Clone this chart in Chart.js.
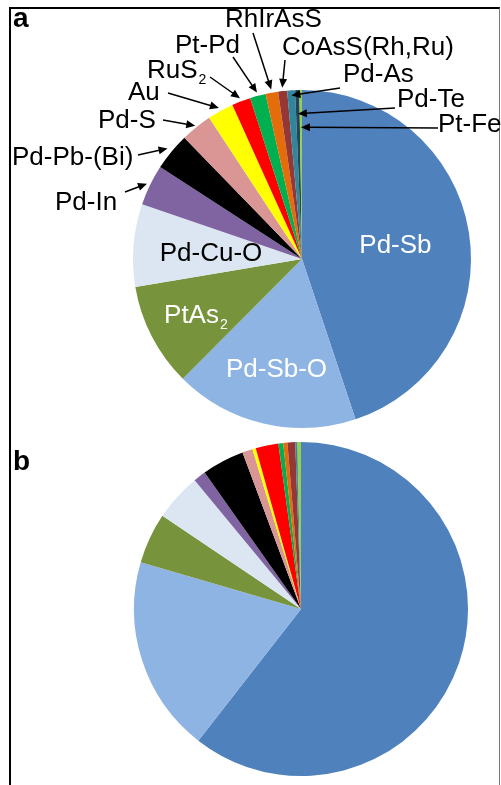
<!DOCTYPE html>
<html>
<head>
<meta charset="utf-8">
<script src="https://cdn.jsdelivr.net/npm/chart.js@4/dist/chart.umd.min.js"></script>
<style>
  html, body { margin: 0; padding: 0; background: #fff; }
  body { width: 501px; height: 785px; position: relative; overflow: hidden; }
  #frame {
    position: absolute; left: 9px; top: 7px; width: 488px; height: 800px;
    border-left: 2px solid #000; border-top: 2px solid #000; border-right: 1px solid #777;
  }
  canvas { position: absolute; left: 0; }
  #chartA { top: 0; }
  #chartB { top: 437px; }
</style>
</head>
<body>
<div id="frame"></div>
<canvas id="chartA" width="501" height="437"></canvas>
<canvas id="chartB" width="501" height="348"></canvas>
<script>
// Mineral phases, in clockwise order from 12 o'clock
const phases = ["Pd-Sb", "Pd-Sb-O", "PtAs2", "Pd-Cu-O", "Pd-In", "Pd-Pb-(Bi)", "Pd-S",
                "Au", "RuS2", "Pt-Pd", "RhIrAsS", "CoAsS(Rh,Ru)", "Pd-As", "Pd-Te", "Pt-Fe"];

const phaseColors = ["#4F81BD", "#8EB4E3", "#77933C", "#DCE6F2", "#8064A2", "#000000", "#D99694",
                     "#FFFF00", "#FF0000", "#00B050", "#E46C0A", "#953735", "#31859C", "#234459", "#92D050"];

// Panel a: share of grains (%)
const shareA = [44.9, 17.6, 9.9, 7.9, 3.9, 3.6, 3.0, 2.5, 1.8, 1.5, 1.2, 0.86, 0.75, 0.4, 0.25];

// Panel b: share of area (%)
const shareB = [60.6, 19.0, 4.9, 4.6, 1.2, 4.1, 1.0, 0.33, 2.2, 0.47, 0.4, 0.75, 0.15, 0.05, 0.35];

const FONT = '"Liberation Sans", Arial, sans-serif';
const LABEL_SIZE = 26;
const SUB_SCALE = 0.55;

// Draws a formula such as "RuS2" with digits set as subscripts.
function formulaWidth(ctx, text, size) {
  let w = 0;
  for (const part of text.match(/\d+|\D+/g)) {
    ctx.font = (/\d/.test(part) ? Math.round(size * SUB_SCALE) : size) + 'px ' + FONT;
    w += ctx.measureText(part).width;
  }
  return w;
}
function drawFormula(ctx, text, x, y, size, align) {
  let cx = align === 'center' ? x - formulaWidth(ctx, text, size) / 2 : x;
  ctx.textAlign = 'left';
  ctx.textBaseline = 'alphabetic';
  for (const part of text.match(/\d+|\D+/g)) {
    const sub = /\d/.test(part);
    const s = sub ? Math.round(size * SUB_SCALE) : size;
    ctx.font = s + 'px ' + FONT;
    ctx.fillText(part, cx + (sub ? 1 : 0), sub ? y + size * 0.22 : y);
    cx += ctx.measureText(part).width;
  }
}

function arrow(ctx, x0, y0, x1, y1) {
  const a = Math.atan2(y1 - y0, x1 - x0);
  const L = 9, W = 4;
  ctx.strokeStyle = '#000';
  ctx.fillStyle = '#000';
  ctx.lineWidth = 1.5;
  ctx.beginPath();
  ctx.moveTo(x0, y0);
  ctx.lineTo(x1 - Math.cos(a) * L * 0.8, y1 - Math.sin(a) * L * 0.8);
  ctx.stroke();
  ctx.beginPath();
  ctx.moveTo(x1, y1);
  ctx.lineTo(x1 - Math.cos(a) * L + Math.sin(a) * W, y1 - Math.sin(a) * L - Math.cos(a) * W);
  ctx.lineTo(x1 - Math.cos(a) * L - Math.sin(a) * W, y1 - Math.sin(a) * L + Math.cos(a) * W);
  ctx.closePath();
  ctx.fill();
}

// Labels placed inside the large slices: slice index, radial position, colour
const insideLabels = [
  { i: 0, f: 0.56, color: '#fff' },
  { i: 1, f: 0.66, color: '#fff' },
  { i: 2, f: 0.71, color: '#fff' },
  { i: 3, f: 0.54, color: '#000' }
];

// Callouts for the small slices: text anchor (left, baseline), arrow tail, arrow tip radius
const callouts = [
  { i: 4,  tx: 55,  ty: 210, sx: 125, sy: 192, f: 1.02 },
  { i: 5,  tx: 12,  ty: 165, sx: 138, sy: 155, f: 1.03 },
  { i: 6,  tx: 98,  ty: 128, sx: 163, sy: 120, f: 1.01 },
  { i: 7,  tx: 128, ty: 100, sx: 168, sy: 93,  f: 1.02 },
  { i: 8,  tx: 147, ty: 78,  sx: 210, sy: 77,  f: 1.02 },
  { i: 9,  tx: 175, ty: 53,  sx: 233, sy: 57,  f: 1.02 },
  { i: 10, tx: 225, ty: 27,  sx: 253, sy: 33,  f: 1.02 },
  { i: 11, tx: 282, ty: 55,  sx: 285, sy: 60,  f: 1.02 },
  { i: 12, tx: 343, ty: 82,  sx: 340, sy: 88,  f: 0.97 },
  { i: 13, tx: 397, ty: 107, sx: 395, sy: 108, f: 0.86 },
  { i: 14, tx: 438, ty: 132, sx: 438, sy: 128, f: 0.78 }
];

function pointOnArc(arc, f) {
  const mid = (arc.startAngle + arc.endAngle) / 2;
  return { x: arc.x + Math.cos(mid) * arc.outerRadius * f,
           y: arc.y + Math.sin(mid) * arc.outerRadius * f };
}

const panelLetter = (letter, baseline) => ({
  id: 'panelLetter',
  afterDraw(chart) {
    const ctx = chart.ctx;
    ctx.save();
    ctx.fillStyle = '#000';
    ctx.font = 'bold 28px ' + FONT;
    ctx.textAlign = 'left';
    ctx.textBaseline = 'alphabetic';
    ctx.fillText(letter, 13, baseline);
    ctx.restore();
  }
});

const sliceLabels = {
  id: 'sliceLabels',
  afterDraw(chart) {
    const ctx = chart.ctx;
    const arcs = chart.getDatasetMeta(0).data;
    ctx.save();
    for (const l of insideLabels) {
      const p = pointOnArc(arcs[l.i], l.f);
      ctx.fillStyle = l.color;
      drawFormula(ctx, phases[l.i], p.x, p.y + LABEL_SIZE * 0.36, LABEL_SIZE, 'center');
    }
    for (const c of callouts) {
      ctx.fillStyle = '#000';
      drawFormula(ctx, phases[c.i], c.tx, c.ty, LABEL_SIZE, 'left');
      const p = pointOnArc(arcs[c.i], c.f);
      arrow(ctx, c.sx, c.sy, p.x, p.y);
    }
    ctx.restore();
  }
};

function pieOptions(padding) {
  return {
    responsive: false,
    animation: false,
    devicePixelRatio: 1,
    layout: { padding },
    plugins: { legend: { display: false }, tooltip: { enabled: false } },
    events: []
  };
}

new Chart(document.getElementById('chartA'), {
  type: 'pie',
  data: { labels: phases, datasets: [{ data: shareA, backgroundColor: phaseColors, borderWidth: 0 }] },
  options: pieOptions({ left: 133, right: 30, top: 90, bottom: 9 }),
  plugins: [sliceLabels, panelLetter('a', 27)]
});

new Chart(document.getElementById('chartB'), {
  type: 'pie',
  data: { labels: phases, datasets: [{ data: shareB, backgroundColor: phaseColors, borderWidth: 0 }] },
  options: pieOptions({ left: 134, right: 33, top: 5, bottom: 9 }),
  plugins: [panelLetter('b', 33)]
});
</script>
</body>
</html>
